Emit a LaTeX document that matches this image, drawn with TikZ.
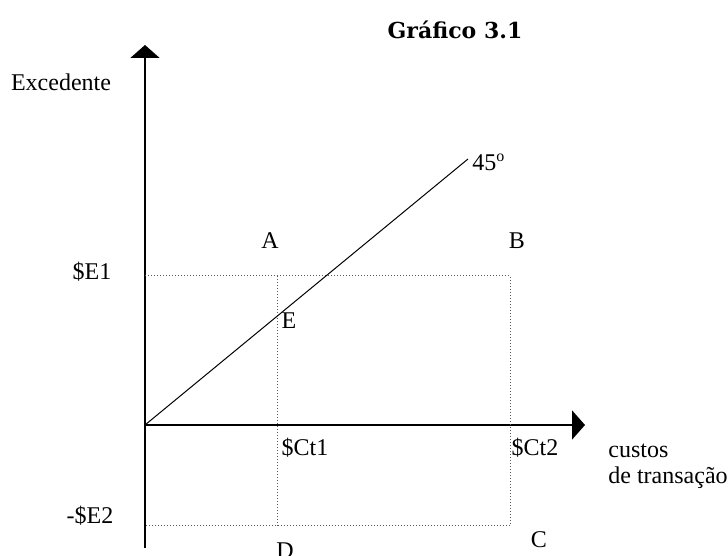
\documentclass[tikz,border=0pt,12pt]{standalone}
\usepackage{fontspec}
\setmainfont{Liberation Serif}
\newfontfamily\titlefont{DejaVu Serif}
\usetikzlibrary{arrows.meta}

\begin{document}
\begin{tikzpicture}[x=1pt,y=1pt,
		axis/.style={line width=1pt,-{Triangle[width=14.5pt,length=6.5pt]}},
		guide/.style={densely dotted,line width=0.5pt,black!65},
		lbl/.style={inner sep=0pt}]
			\useasboundingbox (-72.5,-65.5) rectangle (291.5,212.5);
			% axes
			\coordinate (O) at (0,0);
			\coordinate (ybot) at (0,-61.5);
			\coordinate (ytop) at (0,190);
			\coordinate (xend) at (220,0);
			\draw[axis] (ybot) -- (ytop);
			\draw[axis] (O) -- (xend);
			% dotted guide lines
			\coordinate (E1l) at (0,74.5);
			\coordinate (E1m) at (66,74.5);
			\coordinate (E1r) at (182.5,74.5);
			\coordinate (E2l) at (0,-50.5);
			\coordinate (E2m) at (66,-50.5);
			\coordinate (E2r) at (182.5,-50.5);
			\draw[guide] (E1l) -- (E1r) -- (E2r) -- (E2l);
			\draw[guide] (E1m) -- (E2m);
			% the 45 degree line
			\coordinate (d45) at (161.5,133);
			\draw[line width=0.5pt] (O) -- (d45);
			% labels
			\node[lbl] (title) at (155,197.5) {\titlefont\fontsize{11}{13}\selectfont\bfseries Gráfico 3.1};
			\node[lbl] (exc) at (-42,171.5) {Excedente};
			\node[lbl,anchor=west] (deg) at (163.5,131.5) {45\textsuperscript{o}};
			\node[lbl] (A) at (62.5,92) {A};
			\node[lbl] (B) at (186,92) {B};
			\node[lbl] (C) at (197,-57.5) {C};
			\node[lbl] (D) at (70,-63) {D};
			\node[lbl] (E) at (72,52) {E};
			\node[lbl] (se1) at (-26.5,76.5) {\$E1};
			\node[lbl] (se2) at (-27.5,-45.5) {-\$E2};
			\node[lbl] (ct1) at (80,-11.5) {\$Ct1};
			\node[lbl] (ct2) at (195,-11.5) {\$Ct2};
			\node[lbl,anchor=west] (cust) at (231.5,-13) {custos};
			\node[lbl,anchor=west] (trans) at (231.5,-26.5) {de transação};
		\end{tikzpicture}
\end{document}
